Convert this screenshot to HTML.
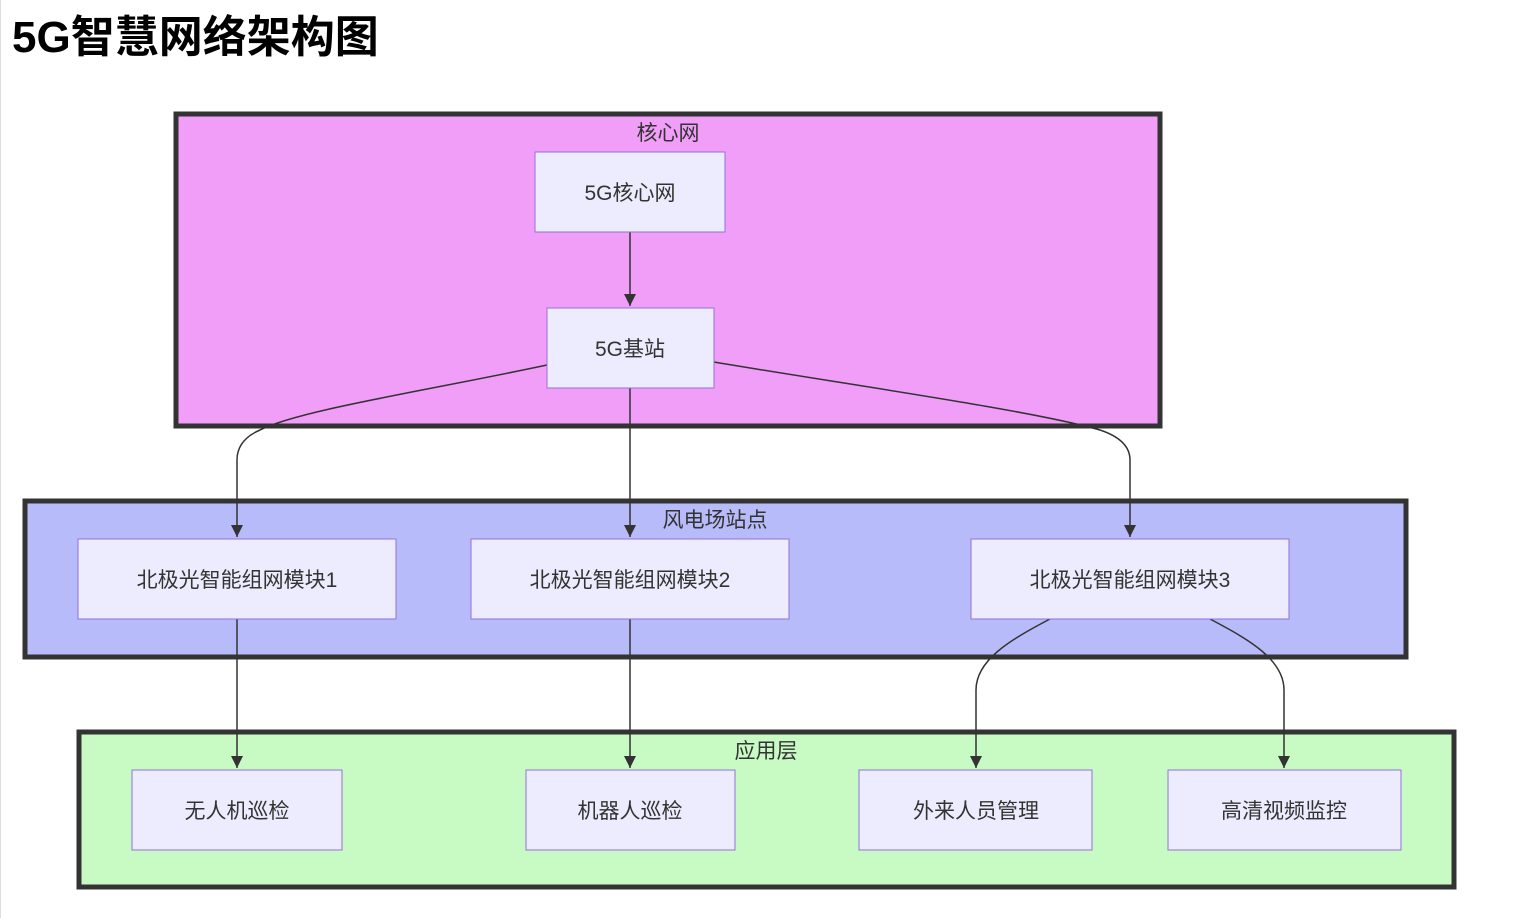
<!DOCTYPE html>
<html><head><meta charset="utf-8"><style>
html,body{margin:0;padding:0;background:#fff;}
body{width:1516px;height:918px;overflow:hidden;position:relative;font-family:"Liberation Sans","Noto Sans CJK SC",sans-serif;}
.lb{position:absolute;left:0;top:0;width:1px;height:918px;background:#ddd;}
h1{position:absolute;left:12px;top:8px;margin:0;font-size:44px;font-weight:bold;color:#000;line-height:60px;}
svg{position:absolute;left:0;top:0;}
text{font-family:"Liberation Sans","Noto Sans CJK SC",sans-serif;fill:#333;font-size:21px;}
</style></head><body>
<div class="lb"></div>
<h1>5G智慧网络架构图</h1>
<svg width="1516" height="918" viewBox="0 0 1516 918">
<defs><marker id="a" viewBox="0 0 10 10" refX="10" refY="5" markerWidth="12" markerHeight="12" markerUnits="userSpaceOnUse" orient="auto"><path d="M0,0L10,5L0,10z" fill="#333"/></marker></defs>
<rect x="176" y="114" width="984" height="312" fill="#f19ef9" stroke="#333" stroke-width="5"/>
<rect x="25" y="501" width="1381" height="156" fill="#b8bbf9" stroke="#333" stroke-width="5"/>
<rect x="79" y="732" width="1375" height="155" fill="#c8fbc4" stroke="#333" stroke-width="5"/>
<text x="668" y="140" text-anchor="middle">核心网</text>
<text x="715" y="527" text-anchor="middle">风电场站点</text>
<text x="766" y="758" text-anchor="middle">应用层</text>
<g fill="none" stroke="#333" stroke-width="1.5">
<path d="M630,232V306" marker-end="url(#a)"/>
<path d="M547,365C420,392 300,410 260,430Q237,440 237,460V537" marker-end="url(#a)"/>
<path d="M630,388V537" marker-end="url(#a)"/>
<path d="M714,362C850,385 1030,410 1100,430Q1130,440 1130,460V537" marker-end="url(#a)"/>
<path d="M237,619V768" marker-end="url(#a)"/>
<path d="M630,619V768" marker-end="url(#a)"/>
<path d="M1050,619C1010,640 976,660 976,690V768" marker-end="url(#a)"/>
<path d="M1210,619C1250,640 1284,660 1284,690V768" marker-end="url(#a)"/>
</g>
<g fill="#ececfe" stroke="#9370db" stroke-width="1">
<rect x="535" y="152" width="190" height="80"/>
<rect x="547" y="308" width="167" height="80"/>
<rect x="78" y="539" width="318" height="80"/>
<rect x="471" y="539" width="318" height="80"/>
<rect x="971" y="539" width="318" height="80"/>
<rect x="132" y="770" width="210" height="80"/>
<rect x="526" y="770" width="209" height="80"/>
<rect x="859" y="770" width="233" height="80"/>
<rect x="1168" y="770" width="233" height="80"/>
</g>
<g text-anchor="middle">
<text x="630" y="200">5G核心网</text>
<text x="630" y="356">5G基站</text>
<text x="237" y="587">北极光智能组网模块1</text>
<text x="630" y="587">北极光智能组网模块2</text>
<text x="1130" y="587">北极光智能组网模块3</text>
<text x="237" y="818">无人机巡检</text>
<text x="630" y="818">机器人巡检</text>
<text x="976" y="818">外来人员管理</text>
<text x="1284" y="818">高清视频监控</text>
</g>
</svg>
</body></html>
